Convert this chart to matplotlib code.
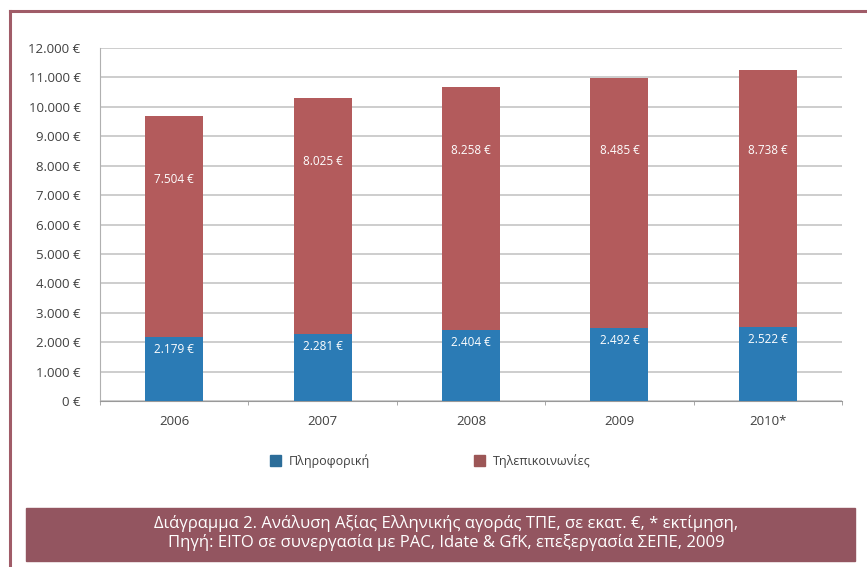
import numpy as np
import matplotlib.pyplot as plt
from matplotlib.patches import Rectangle
from matplotlib.lines import Line2D

plt.rcParams['font.family'] = ['Open Sans', 'DejaVu Sans']

years = ['2006', '2007', '2008', '2009', '2010*']
it_values = [2179, 2281, 2404, 2492, 2522]
telecom_values = [7504, 8025, 8258, 8485, 8738]
series_names = ['Πληροφορική', 'Τηλεπικοινωνίες']
yticks = [0, 1000, 2000, 3000, 4000, 5000, 6000, 7000, 8000, 9000, 10000, 11000, 12000]
caption = ('Διάγραμμα 2. Ανάλυση Αξίας Ελληνικής αγοράς ΤΠΕ, σε εκατ. €, * εκτίμηση,\n'
           'Πηγή: EITO σε συνεργασία με PAC, Idate & GfK, επεξεργασία ΣΕΠΕ, 2009')

blue = '#2b7bb5'
red = '#b35b5c'
text_col = '#404040'


def euro(v):
    return f'{v:,.0f}'.replace(',', '.') + ' €'


fig = plt.figure(figsize=(8.67, 5.67), dpi=100)
W, H = 867, 567

# outer frame (left and top edges visible)
fig.add_artist(Line2D([10 / W, 10 / W], [0, 1 - 11 / H], transform=fig.transFigure,
                      color='#a05c68', lw=2.2))
fig.add_artist(Line2D([10 / W, 1], [1 - 11 / H, 1 - 11 / H], transform=fig.transFigure,
                      color='#a05c68', lw=2.2))

ax = fig.add_axes([100 / W, 1 - 401 / H, 742 / W, (401 - 48) / H])
x = np.arange(len(years))
width = 0.39
ax.bar(x, it_values, width, color=blue, zorder=3)
ax.bar(x, telecom_values, width, bottom=it_values, color=red, zorder=3)

for i in range(len(years)):
    total = it_values[i] + telecom_values[i]
    ax.text(x[i], it_values[i] - 420, euro(it_values[i]), ha='center', va='center',
            color='white', fontsize=8.5, zorder=4)
    ax.text(x[i], min(total - 2150, 8500), euro(telecom_values[i]), ha='center', va='center',
            color='white', fontsize=8.5, zorder=4)

ax.set_xlim(-0.5, len(years) - 0.5)
ax.set_ylim(0, 12000)
ax.set_yticks(yticks)
ax.set_yticklabels([euro(v) for v in yticks], fontsize=9.5, color=text_col)
ax.set_xticks(x)
ax.set_xticklabels(years, fontsize=9.5, color=text_col)
ax.set_xticks(np.arange(len(years) + 1) - 0.5, minor=True)
ax.tick_params(axis='x', which='major', length=0, pad=10)
ax.tick_params(axis='x', which='minor', length=3, color='#999999')
ax.tick_params(axis='y', length=0, pad=14)
ax.grid(axis='y', color='#c9c9c9', lw=1.3, zorder=0)
for s in ['top', 'right']:
    ax.spines[s].set_visible(False)
ax.spines['left'].set_color('#b0b0b0')
ax.spines['bottom'].set_color('#999999')
ax.set_facecolor('white')

handles = [Rectangle((0, 0), 1, 1, color='#2c6d99'), Rectangle((0, 0), 1, 1, color='#9c5656')]
fig.legend(handles, series_names, loc='center', bbox_to_anchor=(0.496, 1 - 461 / H), ncol=2,
           frameon=False, fontsize=9, handlelength=0.9, handleheight=0.9,
           columnspacing=8.3, handletextpad=0.6, labelcolor=text_col)

# caption box
fig.add_artist(Rectangle((26 / W, 1 - 561 / H), (855 - 26) / W, (561 - 508) / H,
                         transform=fig.transFigure, color='#935560'))
fig.text(446 / W, 1 - 533 / H, caption, ha='center', va='center', color='white',
         fontsize=12, linespacing=1.15)

fig.savefig('out.png', dpi=100)
